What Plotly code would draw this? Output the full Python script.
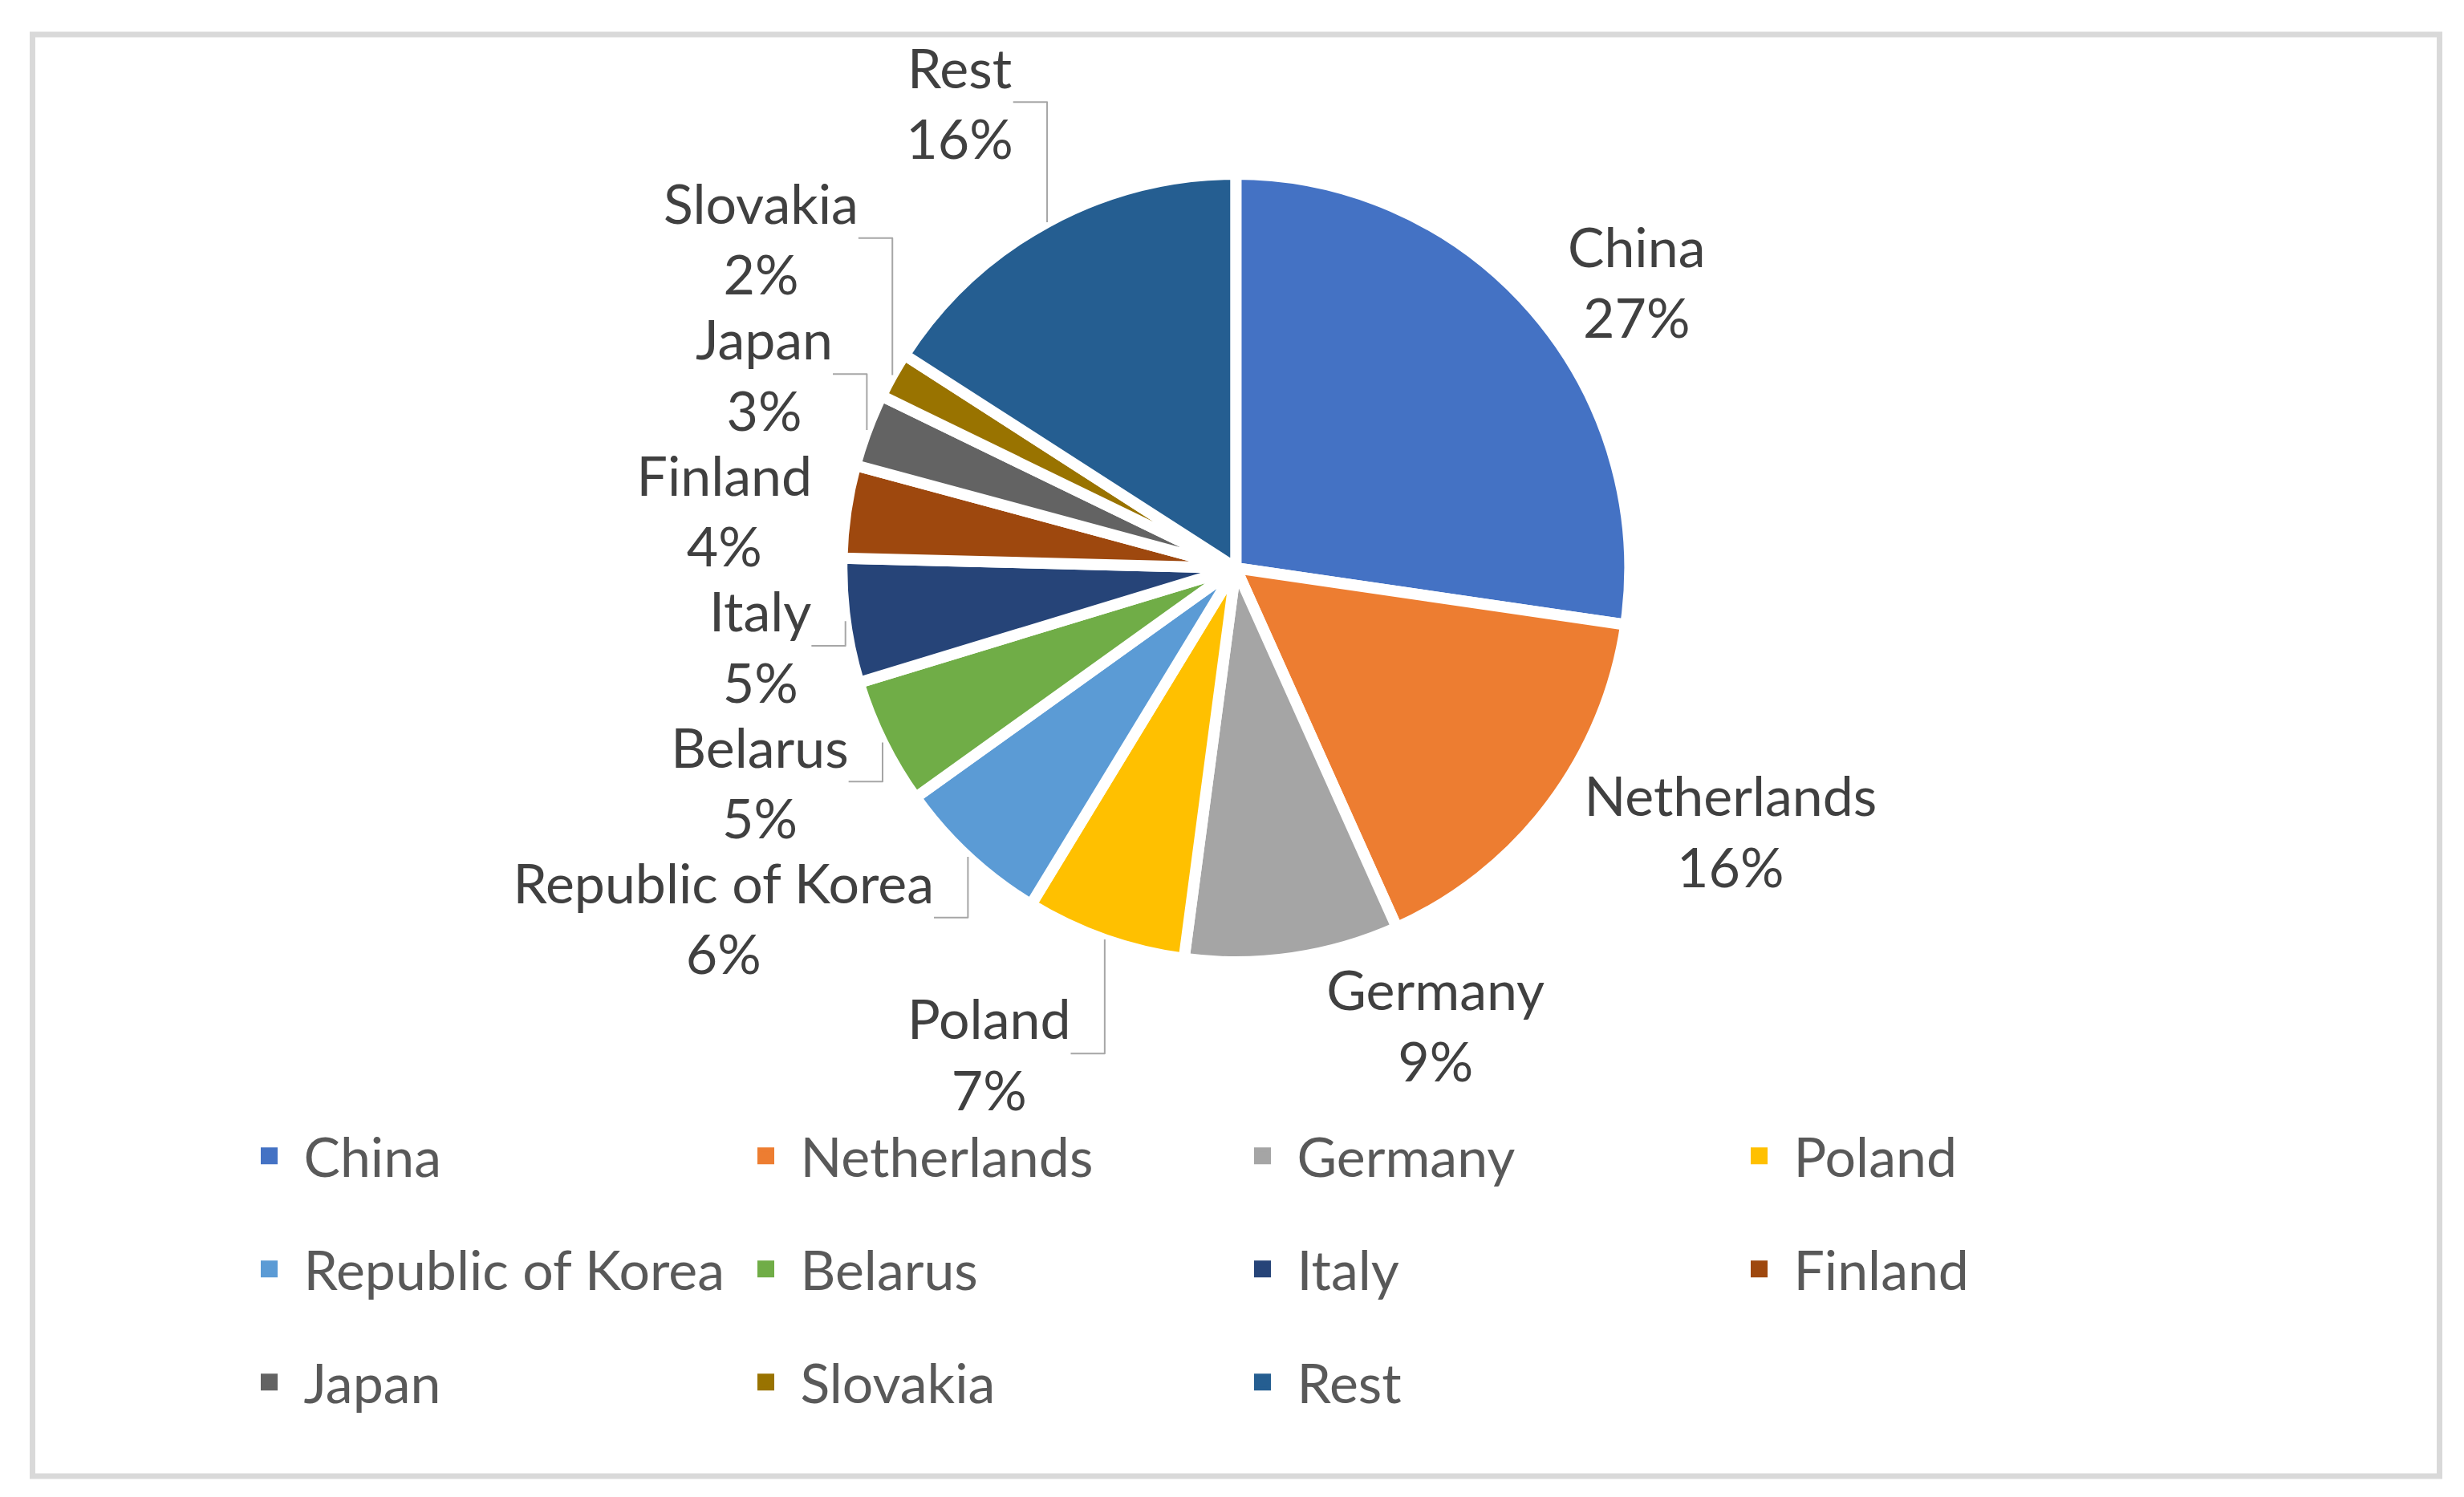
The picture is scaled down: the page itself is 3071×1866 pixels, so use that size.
import plotly.graph_objects as go

# ---- data ----
countries = ["China", "Netherlands", "Germany", "Poland", "Republic of Korea",
             "Belarus", "Italy", "Finland", "Japan", "Slovakia", "Rest"]
shares = [27.3, 16.0, 8.8, 6.6, 6.4, 5.2, 5.1, 3.8, 3.0, 1.9, 15.9]
colors = ["#4472C4", "#ED7D31", "#A5A5A5", "#FFC000", "#5B9BD5", "#70AD47",
          "#264478", "#9E480E", "#636363", "#997300", "#255E91"]

W, H = 3071, 1866
FONT = "Lato"
FS = 68
LABEL_COLOR = "#404040"

fig = go.Figure()

fig.add_trace(go.Pie(
    labels=countries,
    values=shares,
    sort=False,
    direction="clockwise",
    rotation=0,
    marker=dict(colors=colors, line=dict(color="white", width=14)),
    texttemplate=(f"<span style='color:{LABEL_COLOR}'>%{{label}}</span><br>"
                  f"<span style='color:{LABEL_COLOR}'>%{{percent:.0%}}</span>"),
    textposition="outside",
    # the font colour also sets plotly's leader-line colour -> light grey
    outsidetextfont=dict(family=FONT, size=FS, color="#A6A6A6"),
    domain=dict(x=[0.3390, 0.6589], y=[0.3617, 0.8880]),
    showlegend=False,
    hoverinfo="label+percent",
))

# legend entries (three rows of four columns), as in the reference
legend_names = ["legend", "legend2", "legend3"]
for i, (name, col) in enumerate(zip(countries, colors)):
    fig.add_trace(go.Scatter(
        x=[None], y=[None], mode="markers", name=name,
        marker=dict(symbol="square", size=16, color=col,
                    line=dict(color=col, width=5)),
        legend=legend_names[i // 4], showlegend=True,
    ))

row_y = [1 - 1433 / H, 1 - 1574 / H, 1 - 1715 / H]
leg_common = dict(
    orientation="h", x=284.5 / W, xanchor="left", yanchor="middle",
    entrywidth=528, entrywidthmode="pixels", itemwidth=76,
    font=dict(family=FONT, size=FS, color="#595959"),
    bgcolor="rgba(0,0,0,0)", itemclick=False, itemdoubleclick=False,
)

fig.update_layout(
    width=W, height=H,
    margin=dict(l=0, r=0, t=0, b=0, autoexpand=False),
    paper_bgcolor="white", plot_bgcolor="white",
    xaxis=dict(visible=False), yaxis=dict(visible=False),
    legend=dict(y=row_y[0], **leg_common),
    legend2=dict(y=row_y[1], **leg_common),
    legend3=dict(y=row_y[2], **leg_common),
    shapes=[dict(type="rect", xref="paper", yref="paper",
                 x0=32.5 / W, x1=3032.5 / W, y0=1 - 1832 / H, y1=1 - 35 / H,
                 line=dict(color="#D9D9D9", width=7), fillcolor="rgba(0,0,0,0)",
                 layer="below")],
)

fig.write_html("out.html")
